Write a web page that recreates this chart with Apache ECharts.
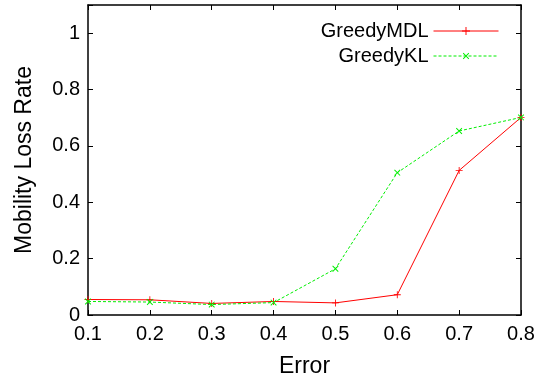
<!DOCTYPE html>
<html>
<head>
<meta charset="utf-8">
<script src="https://cdn.jsdelivr.net/npm/echarts@6/dist/echarts.min.js"></script>
<style>
  html, body { margin: 0; padding: 0; background: #fff; }
  #chart { width: 544px; height: 379px; }
</style>
</head>
<body>
<div id="chart"></div>
<script>
// error levels on the x axis
const errors = ['0.1', '0.2', '0.3', '0.4', '0.5', '0.6', '0.7', '0.8'];
// mobility loss rate per method
const greedyMDL = [0.055, 0.054, 0.041, 0.048, 0.043, 0.072, 0.513, 0.701];
const greedyKL = [0.048, 0.046, 0.037, 0.044, 0.164, 0.505, 0.653, 0.701];

const plusPath = 'path://M0,4.4L10,4.4L10,5.6L0,5.6Z M4.4,0L5.6,0L5.6,10L4.4,10Z';
const font = 'Liberation Sans, Arial, sans-serif';

let chart = echarts.init(document.getElementById('chart'));

let axisCommon = {
  axisLine: { show: true, onZero: false, lineStyle: { color: '#000', width: 1.5 } },
  axisTick: { show: true, inside: true, length: 5, lineStyle: { color: '#000', width: 1 } },
  splitLine: { show: false },
};

let legendCommon = {
  right: 40, align: 'right',
  itemWidth: 65, itemHeight: 10,
  lineStyle: { width: 1 },
  textStyle: { fontFamily: font, fontSize: 20, color: '#000', lineHeight: 22 },
};

let option = {
  animation: false,
  grid: { left: 88, right: 23, top: 5, bottom: 64, containLabel: false, outerBoundsMode: 'none' },
  legend: [
    Object.assign({ data: ['GreedyMDL'], top: 15 }, legendCommon),
    Object.assign({ data: ['GreedyKL'], top: 40 }, legendCommon),
  ],
  xAxis: [
    Object.assign({
      type: 'category',
      data: errors,
      boundaryGap: false,
      name: 'Error',
      nameLocation: 'middle',
      nameGap: 40,
      nameTextStyle: { fontFamily: font, fontSize: 23, color: '#000' },
      axisLabel: { fontFamily: font, fontSize: 20, color: '#000', margin: 9 },
    }, axisCommon),
    Object.assign({
      type: 'category',
      data: errors,
      boundaryGap: false,
      position: 'top',
      axisLabel: { show: false },
    }, axisCommon),
  ],
  yAxis: [
    Object.assign({
      type: 'value',
      min: 0,
      max: 1.1,
      interval: 0.2,
      name: 'Mobility Loss Rate',
      nameLocation: 'middle',
      nameGap: 52,
      nameTextStyle: { fontFamily: font, fontSize: 23, color: '#000' },
      axisLabel: {
        fontFamily: font, fontSize: 20, color: '#000', margin: 8,
        formatter: v => v > 1.05 ? '' : String(+v.toFixed(1)),
      },
    }, axisCommon),
    Object.assign({
      type: 'value',
      min: 0,
      max: 1.1,
      interval: 0.2,
      position: 'right',
      axisLabel: { show: false },
    }, axisCommon),
  ],
  series: [
    {
      name: 'GreedyMDL',
      type: 'line',
      data: greedyMDL,
      symbol: plusPath,
      symbolSize: 7,
      lineStyle: { color: '#ff0000', width: 1 },
      itemStyle: { color: '#ff0000' },
    },
    {
      name: 'GreedyKL',
      type: 'line',
      data: greedyKL,
      symbol: plusPath,
      symbolSize: 8,
      symbolRotate: 45,
      lineStyle: { color: '#00ee00', width: 1, type: [3, 2] },
      itemStyle: { color: '#00ee00' },
    },
  ],
};

chart.setOption(option);
</script>
</body>
</html>
